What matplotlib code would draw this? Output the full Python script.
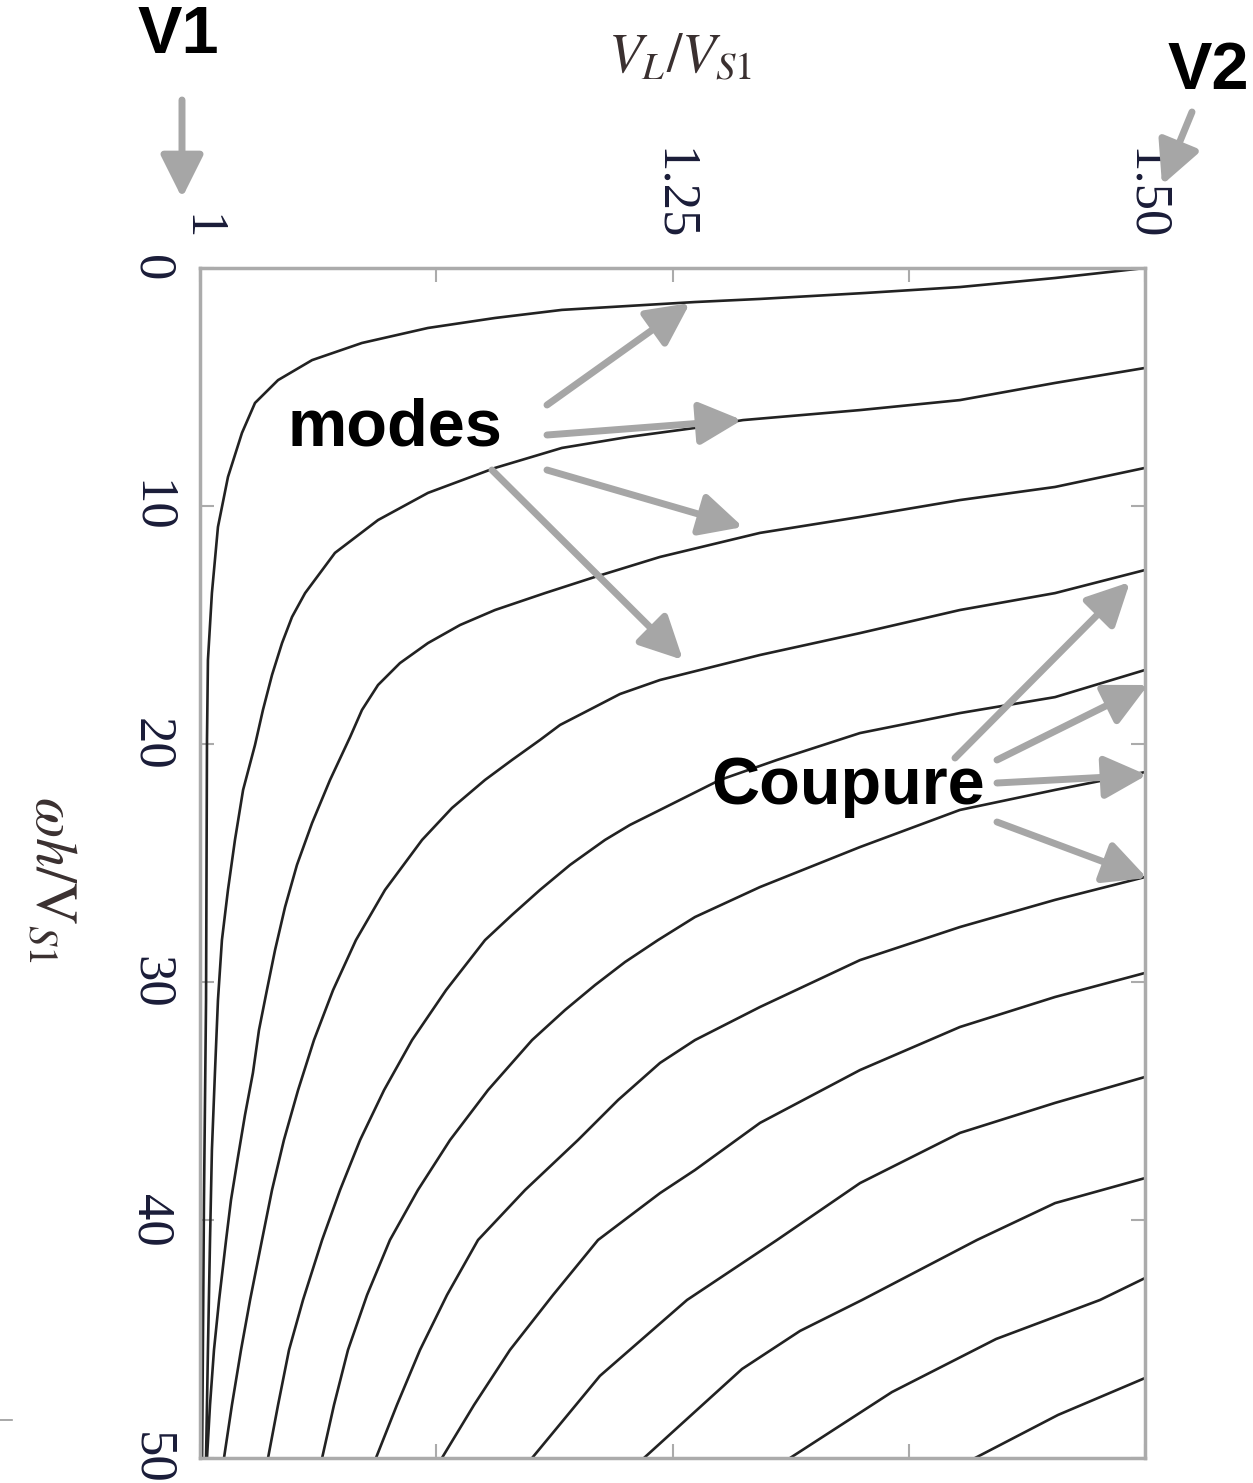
import matplotlib
matplotlib.use("Agg")
import matplotlib.pyplot as plt
from matplotlib.lines import Line2D

#-----------------------------------------------------------------------------------------------------------------------
# Dispersion curves : V_L/V_S1 (vl) against wh/V_S1 (wh), one pair of lists per mode
#-----------------------------------------------------------------------------------------------------------------------
mode0_vl = [1.5, 1.4524, 1.4021, 1.3519, 1.2963, 1.2619, 1.1915, 1.1561, 1.1206, 1.0857, 1.0593, 1.0413,
            1.0291, 1.0222, 1.0148, 1.0095, 1.0063, 1.0042, 1.0037, 1.0032, 1.0021, 1.0011]
mode0_wh = [0.0, 0.42, 0.80, 1.05, 1.30, 1.43, 1.76, 2.10, 2.52, 3.15, 3.87, 4.71,
            5.67, 6.93, 8.78, 10.88, 13.66, 16.47, 19.83, 30.76, 39.16, 50.0]

mode1_vl = [1.5, 1.4524, 1.4021, 1.3492, 1.2873, 1.2619, 1.2265, 1.1915, 1.1561, 1.1206, 1.0942, 1.0714,
            1.0556, 1.0487, 1.0434, 1.0381, 1.0333, 1.0291, 1.0228, 1.0185, 1.0148, 1.0116, 1.0095, 1.0079,
            1.0063, 1.0053, 1.0042, 1.0032]
mode1_wh = [4.20, 4.83, 5.55, 5.97, 6.39, 6.72, 7.10, 7.56, 8.40, 9.45, 10.59, 11.97,
            13.66, 14.66, 15.76, 17.10, 18.57, 20.04, 21.93, 24.03, 26.13, 28.24, 30.76, 33.82,
            37.06, 40.84, 45.46, 50.0]

mode2_vl = [1.5, 1.4524, 1.4021, 1.3492, 1.2963, 1.2434, 1.2090, 1.1825, 1.1561, 1.1376, 1.1206, 1.1058,
            1.0942, 1.0857, 1.0794, 1.0688, 1.0593, 1.0513, 1.0450, 1.0397, 1.0354, 1.0312, 1.0280, 1.0238,
            1.0201, 1.0164, 1.0138, 1.0101, 1.0074, 1.0053, 1.0037]
mode2_wh = [8.40, 9.20, 9.75, 10.46, 11.13, 12.14, 12.98, 13.66, 14.37, 15.00, 15.76, 16.60,
            17.52, 18.57, 19.71, 21.51, 23.32, 25.08, 26.85, 28.66, 30.34, 32.02, 33.82, 35.59,
            37.35, 39.16, 40.84, 43.36, 45.46, 47.77, 50.0]

mode3_vl = [1.5, 1.4524, 1.4021, 1.3492, 1.2963, 1.2434, 1.2222, 1.2037, 1.1905, 1.1799, 1.1651, 1.1508,
            1.1333, 1.1175, 1.0979, 1.0825, 1.0704, 1.0603, 1.0519, 1.0444, 1.0381, 1.0328, 1.0265, 1.0217,
            1.0169, 1.0127]
mode3_wh = [12.69, 13.66, 14.37, 15.34, 16.26, 17.31, 17.90, 18.66, 19.20, 19.83, 20.67, 21.51,
            22.69, 24.03, 26.13, 28.24, 30.34, 32.44, 34.54, 36.64, 38.74, 40.84, 43.36, 45.46,
            47.77, 50.0]

mode4_vl = [1.5, 1.4524, 1.4021, 1.3492, 1.3053, 1.2751, 1.2434, 1.2275, 1.2143, 1.1958, 1.1799, 1.1651,
            1.1508, 1.1302, 1.1122, 1.0974, 1.0847, 1.0741, 1.0646, 1.0545, 1.0471, 1.0413, 1.0360]
mode4_wh = [16.89, 18.03, 18.70, 19.54, 20.67, 21.51, 22.77, 23.40, 24.03, 25.08, 26.13, 27.18,
            28.24, 30.34, 32.44, 34.54, 36.64, 38.74, 40.84, 43.36, 45.46, 47.77, 50.0]

mode5_vl = [1.5, 1.4524, 1.4021, 1.3492, 1.2963, 1.2619, 1.2423, 1.2249, 1.2090, 1.1931, 1.1757, 1.1524,
            1.1323, 1.1153, 1.1005, 1.0884, 1.0783, 1.0709, 1.0646]
mode5_wh = [21.18, 21.93, 22.77, 24.33, 26.01, 27.27, 28.24, 29.16, 30.13, 31.18, 32.44, 34.54,
            36.64, 38.74, 40.84, 43.15, 45.46, 47.77, 50.0]

mode6_vl = [1.5, 1.4524, 1.4021, 1.3492, 1.2963, 1.2619, 1.2434, 1.2212, 1.2000, 1.1720, 1.1471, 1.1307,
            1.1164, 1.1042, 1.0931]
mode6_wh = [25.59, 26.55, 27.69, 29.08, 31.05, 32.44, 33.40, 34.96, 36.64, 38.74, 40.84, 43.15,
            45.46, 47.77, 50.0]

mode7_vl = [1.5, 1.4524, 1.4021, 1.3492, 1.2963, 1.2619, 1.2434, 1.2106, 1.1868, 1.1640, 1.1450, 1.1280]
mode7_wh = [29.62, 30.63, 31.89, 33.70, 35.92, 37.90, 38.87, 40.84, 43.15, 45.46, 47.77, 50.0]

mode8_vl = [1.5, 1.4524, 1.4021, 1.3492, 1.3053, 1.2577, 1.2116, 1.1757]
mode8_wh = [33.99, 35.08, 36.34, 38.45, 40.84, 43.36, 46.55, 50.0]

mode9_vl = [1.5, 1.4524, 1.4111, 1.3503, 1.3175, 1.2868, 1.2349]
mode9_wh = [38.24, 39.29, 40.84, 43.36, 44.66, 46.26, 50.0]

mode10_vl = [1.5, 1.4762, 1.4212, 1.3661, 1.3122]
mode10_wh = [42.44, 43.36, 45.00, 47.23, 50.0]

mode11_vl = [1.5, 1.4540, 1.4101]
mode11_wh = [46.64, 48.19, 50.0]

modes = [(mode0_vl, mode0_wh), (mode1_vl, mode1_wh), (mode2_vl, mode2_wh), (mode3_vl, mode3_wh),
         (mode4_vl, mode4_wh), (mode5_vl, mode5_wh), (mode6_vl, mode6_wh), (mode7_vl, mode7_wh),
         (mode8_vl, mode8_wh), (mode9_vl, mode9_wh), (mode10_vl, mode10_wh), (mode11_vl, mode11_wh)]

x_ticks = [1, 1.25, 1.5]
x_ticklabels = ["1", "1.25", "1.50"]
x_minor = [1.125, 1.375]
y_ticks = [0, 10, 20, 30, 40, 50]

#-----------------------------------------------------------------------------------------------------------------------
W, H = 1253, 1483
FRAME = "#ababab"
CURVE = "#222222"
ARROW = "#a6a6a6"
TXT = "#1a1c38"

plt.rcParams["mathtext.fontset"] = "stix"

def fxy(px, py):
    # picture pixel -> figure fraction
    return (px / W, 1 - py / H)

fig = plt.figure(figsize=(W / 100, H / 100), dpi=100)
ax = fig.add_axes([200 / W, 1 - 1458 / H, 945 / W, 1190 / H])

for vl, wh in modes:
    ax.plot(vl, wh, color=CURVE, lw=1.9, solid_joinstyle="round")

ax.set_xlim(1, 1.5)
ax.set_ylim(50, 0)
ax.xaxis.tick_top()
ax.set_xticks(x_ticks)
ax.set_xticklabels(x_ticklabels)
ax.set_xticks(x_minor, minor=True)
ax.set_yticks(y_ticks)
ax.tick_params(axis="both", which="both", direction="in", colors=FRAME, length=10, width=1.5,
               top=True, bottom=True, left=True, right=True, labelcolor=TXT)
ax.tick_params(axis="x", labeltop=True, labelbottom=False, pad=20)
ax.tick_params(axis="y", pad=18)
for lab in ax.get_xticklabels() + ax.get_yticklabels():
    lab.set_rotation(-90)
    lab.set_fontfamily("Liberation Serif")
    lab.set_fontsize(38)
for lab in ax.get_yticklabels():
    lab.set_va("center")
for s in ax.spines.values():
    s.set_color(FRAME)
    s.set_linewidth(2.5)

# axis titles
fig.text(*fxy(680, 57), r"$V_L/V_{S1}$", fontsize=40, color="#3a3030", ha="center", va="center")
fig.text(*fxy(52, 880), r"$\omega h/\mathrm{V}_{S1}$", fontsize=42, color="#3a3030", ha="center", va="center",
         rotation=-90)

# annotations
bold = dict(fontfamily="Liberation Sans", fontweight="bold", color="black", fontsize=48, ha="center", va="center")
arrow = dict(arrowstyle="-|>,head_length=0.5,head_width=0.25", color=ARROW, lw=5, shrinkA=0, shrinkB=0,
             mutation_scale=52)

def arr(start, tip):
    ax.annotate("", xy=fxy(*tip), xycoords="figure fraction", xytext=fxy(*start), textcoords="figure fraction",
                arrowprops=arrow, annotation_clip=False)

fig.text(*fxy(178, 36), "V1", **bold)
arr((182, 100), (182, 198))
fig.text(*fxy(1208, 72), "V2", **bold)
arr((1192, 112), (1162, 185))

fig.text(*fxy(395, 428), "modes", **bold)
arr((547, 405), (690, 303))
arr((547, 435), (742, 420))
arr((547, 470), (743, 527))
arr((492, 470), (683, 660))

fig.text(*fxy(848, 787), "Coupure", **bold)
arr((955, 758), (1130, 582))
arr((997, 760), (1148, 685))
arr((997, 783), (1147, 775))
arr((997, 822), (1147, 878))

# stray scan mark on the left margin
fig.add_artist(Line2D([0, 12 / W], [1 - 1420 / H] * 2, color="#9a9a9a", lw=1.2))

fig.savefig("out.png", dpi=100)
